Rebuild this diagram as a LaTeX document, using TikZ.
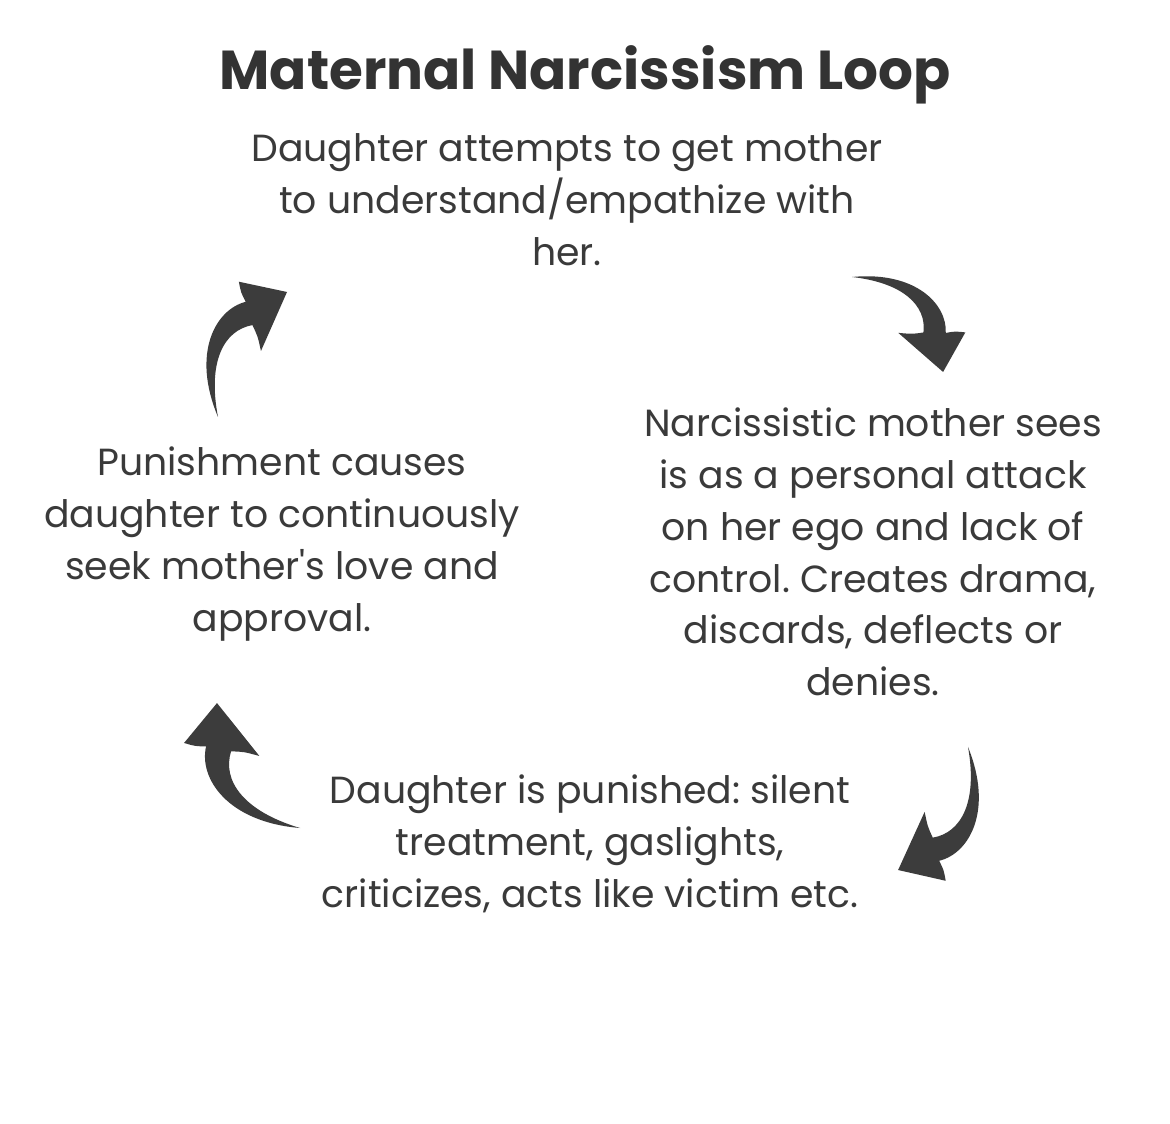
\documentclass[tikz,border=0pt]{standalone}
\usepackage{fontspec}
\setmainfont{Poppins}
\usetikzlibrary{positioning}
\frenchspacing

\definecolor{textgray}{HTML}{3A3A3A}
\definecolor{arrowgray}{HTML}{3C3C3C}
\definecolor{titlegray}{HTML}{333333}

\newcommand{\bodyfont}{\fontsize{21.5}{29.5}\selectfont}
\newcommand{\headfont}{\fontsize{31.2}{36}\selectfont\bfseries}

\tikzset{
    caption/.style={align=center, text=textgray, font=\bodyfont, inner sep=0pt},
    heading/.style={text=titlegray, font=\headfont, inner sep=0pt},
    % brush-like curved arrow, tail at (0,0), tip at (1,0)
    loop arrow/.pic={
        \fill[arrowgray]
            (0,0) .. controls (0.30,0.38) and (0.65,0.38) .. (0.80,0.22)
            .. controls (0.84,0.28) .. (0.90,0.33)
            -- (1,0) -- (0.55,-0.04)
            .. controls (0.63,0.03) .. (0.68,0.10)
            .. controls (0.55,0.26) and (0.30,0.25) .. (0,0) -- cycle;
    }
}

\begin{document}
\begin{tikzpicture}[x=0.02cm,y=0.02cm]
    \fill[white] (0,0) rectangle (1170,-1124);
    \useasboundingbox (0,0) rectangle (1170,-1124);

    \node[heading] (title) at (585,-75)
        {Maternal Narcissism Loop};

    \node[caption] (attempt) [below of=title, node distance=2.5cm, xshift=-0.36cm]
        {Daughter attempts to get mother\\ to understand/empathize with\\ her.};

    \node[caption] (reaction) at (873,-552)
        {Narcissistic mother sees\\ is as a personal attack\\ on her ego and lack of\\ control. Creates drama,\\ discards, deflects or\\ denies.};

    \node[caption] (punish) at (590,-844)
        {Daughter is punished: silent\\ treatment, gaslights,\\ criticizes, acts like victim etc.};

    \node[caption] (seek) at (282,-544)
        {Punishment causes\\ daughter to continuously\\ seek mother\textquotesingle s love and\\ approval.};

    % arrow tails
    \coordinate (toReaction) at (852,-277);
    \coordinate (toPunish)   at (968,-747);
    \coordinate (toSeek)     at (300,-828);
    \coordinate (toAttempt)  at (218,-417);

    \pic[rotate=-46.2, scale=131.6] at (toReaction) {loop arrow};
    \pic[rotate=-119.6, scale=141.5] at (toPunish) {loop arrow};
    \pic[rotate=123.6, scale=150] at (toSeek) {loop arrow};
    \pic[rotate=61.1, scale=142.8] at (toAttempt) {loop arrow};
\end{tikzpicture}
\end{document}
